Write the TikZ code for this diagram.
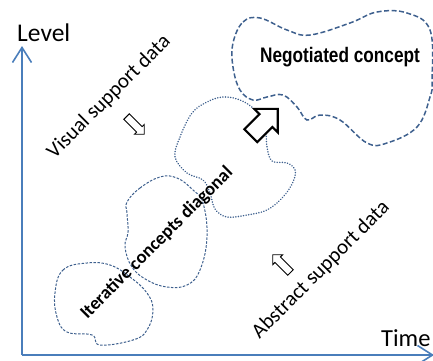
\documentclass[tikz,border=0pt]{standalone}
\usepackage{fontspec}
\setmainfont{Carlito}
\newfontfamily\narrowfont[FakeStretch=0.82]{Liberation Sans}
\usepackage{xcolor}
\usepackage{tikz}
\usetikzlibrary{arrows.meta, shapes.arrows}

\definecolor{axisblue}{RGB}{74,126,187}
\definecolor{blobblue}{RGB}{62,96,142}

\tikzset{
  axis/.style = {draw=axisblue, line width=2.2pt, -{Straight Barb[length=15pt, width=19pt, line width=1.6pt]}},
  blob/.style = {draw=blobblue, line width=1pt, dash pattern=on 2.5pt off 1.5pt},
  dotblob/.style = {draw=blobblue, line width=1.6pt, dash pattern=on 0.1pt off 2.5pt, line cap=round},
  bigblob/.style = {draw=blobblue, line width=1.5pt, dash pattern=on 5pt off 2.5pt},
  hollow/.style = {single arrow, draw=black, fill=white, line width=0.9pt, inner xsep=0pt, inner ysep=3.5pt,
    minimum height=25pt, minimum width=13pt, single arrow head extend=3pt},
}

\begin{document}
\begin{tikzpicture}[x=1pt, y=-1pt]
	\useasboundingbox (0,0) rectangle (433,360);

	% axes
	\coordinate (origin) at (22,355);
	\coordinate (ytop) at (22,46);
	\coordinate (xend) at (434,355);
	\draw[axis] (origin) -- (ytop);
	\draw[axis] (origin) -- (xend);
	\node[anchor=base west, inner sep=0pt] (level) at (17,41) {\fontsize{25.5}{28}\selectfont Level};
	\node[anchor=base west, inner sep=0pt] (time) at (381,346) {\fontsize{24.5}{28}\selectfont Time};

	% iterative concepts
	\draw[blob] plot[smooth cycle, tension=0.7] coordinates {
		(55,293) (63,270) (87,263) (110,265) (130,277) (147,293) (153,310)
		(147,330) (133,340) (100,345) (92,335) (67,332) (57,317)};
	\draw[blob] plot[smooth cycle, tension=0.7] coordinates {
		(127,202) (140,188) (160,177) (177,178) (193,190) (203,203) (207,237)
		(200,270) (187,285) (167,287) (147,280) (132,267) (125,247) (128,232) (127,213)};
	\draw[dotblob] plot[smooth cycle, tension=0.6] coordinates {
		(175,157) (180,137) (192,113) (207,102) (223,97) (240,100) (255,110)
		(265,127) (267,147) (272,161) (287,163) (295,170) (293,182) (283,197)
		(267,210) (247,215) (227,217) (215,209) (210,193) (203,180) (187,173)};

	% negotiated concept
	\draw[bigblob] plot[smooth cycle, tension=0.65] coordinates {
		(233,43) (243,22) (260,18) (287,30) (310,35) (350,23) (377,12) (407,13)
		(430,30) (432,80) (430,97) (417,127) (387,143) (367,143) (340,120)
		(320,115) (307,120) (297,107) (283,95) (267,97) (253,100) (240,90) (233,67)};
	\node (negotiated) at (340,57) {\narrowfont\bfseries\fontsize{21}{23}\selectfont Negotiated concept};

	\node[rotate=45] (diagonal) at (157,243) {\bfseries\fontsize{18.5}{20}\selectfont Iterative concepts diagonal};

	% support data
	\node[rotate=45] (visual) at (109,97) {\fontsize{21}{23}\selectfont Visual support data};
	\node[rotate=45] (abstract) at (321,270) {\fontsize{21}{23}\selectfont Abstract support data};
	\node[hollow, rotate=-45] (visarrow) at (134,124) {};
	\node[hollow, rotate=135] (absarrow) at (283,265) {};

	\node[single arrow, draw=black, fill=white, line width=2.2pt, inner xsep=0pt, inner ysep=8pt, rotate=45,
		minimum height=38pt, minimum width=31pt, single arrow head extend=7.5pt] (bigarrow) at (261,125.5) {};
\end{tikzpicture}
\end{document}
